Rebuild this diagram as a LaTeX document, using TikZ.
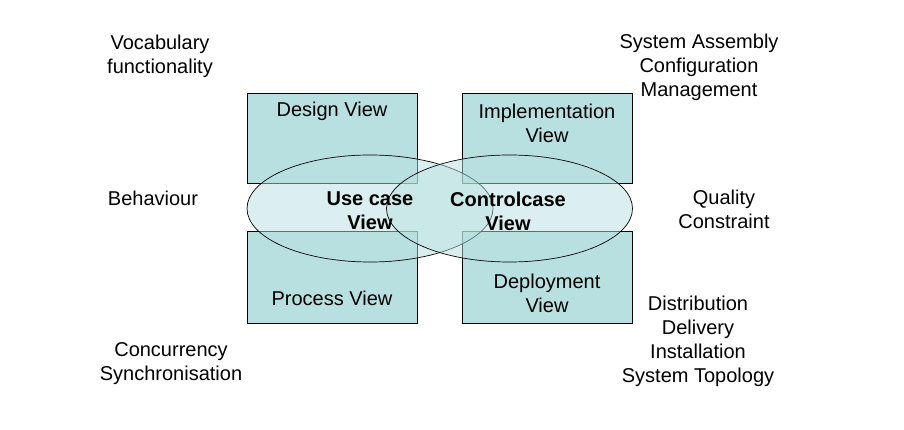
\documentclass[tikz,border=0pt]{standalone}
\usepackage{fontspec}
\setmainfont{Liberation Sans}
\usetikzlibrary{shapes.geometric}
\usetikzlibrary{positioning}
\definecolor{viewfill}{HTML}{B9E0E1}

\begin{document}
\begin{tikzpicture}[x=1pt,y=-1pt]
                % Styles
                \tikzset{
                    viewbox/.style={draw, line width=0.9pt, fill=viewfill, minimum width=170pt, minimum height=90pt, inner sep=0pt},
                    caseoval/.style={ellipse, draw, line width=0.7pt, fill=viewfill, fill opacity=0.5, minimum width=246pt, minimum height=107pt, inner sep=0pt},
                    txt/.style={align=center, font=\fontsize{20}{24}\selectfont, inner sep=0pt},
                    boldtxt/.style={align=center, font=\fontsize{20}{24}\selectfont\bfseries, inner sep=0pt}
                }
                \useasboundingbox (0,0) rectangle (904,430);

                % View boxes
                \node[viewbox] (design) at (332,138){};
                \node[viewbox] (impl) at (547,138){};
                \node[viewbox, minimum height=92pt] (process) at (332,277){};
                \node[viewbox, minimum height=92pt] (deploy) at (547,277){};

                % Case ovals
                \node[caseoval] (usecase) at (370,208.5){};
                \node[caseoval] (ctrlcase) at (509.5,208.5){};

                % Box labels
                \node[txt] (designlbl) at (332,111) {Design View};
                \node[txt] (impllbl) at (547,123) {Implementation\\View};
                \node[txt] (processlbl) at (332,298) {Process View};
                \node[txt] (deploylbl) at (547,293) {Deployment\\View};
                \node[boldtxt] (usecaselbl) at (370,211) {Use case\\View};
                \node[boldtxt] (ctrlcaselbl) at (508,211) {Controlcase\\View};

                % Concerns
                \node[txt] (vocab) at (160,56) {Vocabulary\\functionality};
                \node[txt] (assembly) at (699,67) {System Assembly\\Configuration\\Management};
                \node[txt] (behav) at (153,198) {Behaviour};
                \node[txt] (quality) at (724,209) {Quality\\Constraint};
                \node[txt] (concur) at (171,364) {Concurrency\\Synchronisation};
                \node[txt] (distrib) at (698,341) {Distribution\\Delivery\\Installation\\System Topology};
            \end{tikzpicture}
\end{document}
